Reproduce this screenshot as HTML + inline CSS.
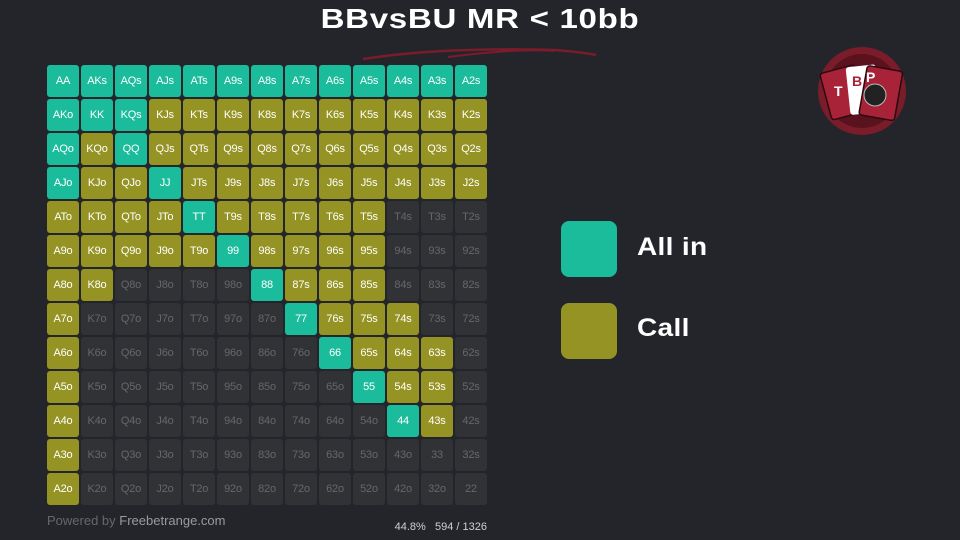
<!DOCTYPE html>
<html><head><meta charset="utf-8"><style>
body{margin:0;width:960px;height:540px;background:#24252a;font-family:"Liberation Sans",sans-serif;position:relative;overflow:hidden}
#g{position:absolute;left:47px;top:65px;width:442px;display:flex;flex-wrap:wrap;gap:2px}
#g i{font-style:normal;width:32px;height:32px;border-radius:3px;background:#313236;color:#66676b;font-size:11px;display:flex;align-items:center;justify-content:center;letter-spacing:-0.2px}
#g i.t{background:#1abc9c;color:#fff}
#g i.o{background:#959324;color:#fff}
.title{position:absolute;left:0;width:960px;top:3px;text-align:center;color:#fff;font-weight:bold;font-size:28px;letter-spacing:0.6px;transform:scaleX(1.18);transform-origin:480px 0}
.lg{position:absolute;left:561px;width:56px;height:56px;border-radius:8px}
.lt{position:absolute;left:637px;color:#fff;font-weight:bold;font-size:25px;letter-spacing:0.3px;transform:scaleX(1.12);transform-origin:0 0}
</style></head><body>
<div class="title">BBvsBU MR &lt; 10bb</div>
<svg style="position:absolute;left:0;top:0" width="960" height="540">
<path d="M363 59 Q440 47 555 50 Q580 52 596 55" stroke="#7a1c2a" stroke-width="2.5" fill="none"/>
<path d="M448 57 Q520 48 555 51" stroke="#7a1c2a" stroke-width="2" fill="none"/>
<circle cx="862" cy="91" r="44" fill="#7a1c2a"/>
<circle cx="862" cy="91" r="37" fill="#5a121d"/>
<g transform="rotate(-15 845 95)"><rect x="826" y="68" width="36" height="48" rx="3" fill="#a82238" stroke="#2a0a10" stroke-width="1.5"/></g>
<rect x="848" y="66" width="30" height="48" rx="3" fill="#fff" transform="rotate(-6 860 90)"/>
<g transform="rotate(10 880 92)"><rect x="863" y="68" width="36" height="50" rx="3" fill="#a82238" stroke="#2a0a10" stroke-width="1.5"/></g>
<circle cx="875" cy="95" r="11" fill="#222" stroke="#bbb" stroke-width="1"/>
<text x="834" y="96" fill="#fff" font-size="14" font-weight="bold" font-family="Liberation Sans">T</text>
<text x="852" y="86" fill="#a82238" font-size="14" font-weight="bold" font-family="Liberation Sans">B</text>
<text x="866" y="82" fill="#fff" font-size="14" font-weight="bold" font-family="Liberation Sans">P</text>
</svg>
<div id="g">
<i class=t>AA</i><i class=t>AKs</i><i class=t>AQs</i><i class=t>AJs</i><i class=t>ATs</i><i class=t>A9s</i><i class=t>A8s</i><i class=t>A7s</i><i class=t>A6s</i><i class=t>A5s</i><i class=t>A4s</i><i class=t>A3s</i><i class=t>A2s</i>
<i class=t>AKo</i><i class=t>KK</i><i class=t>KQs</i><i class=o>KJs</i><i class=o>KTs</i><i class=o>K9s</i><i class=o>K8s</i><i class=o>K7s</i><i class=o>K6s</i><i class=o>K5s</i><i class=o>K4s</i><i class=o>K3s</i><i class=o>K2s</i>
<i class=t>AQo</i><i class=o>KQo</i><i class=t>QQ</i><i class=o>QJs</i><i class=o>QTs</i><i class=o>Q9s</i><i class=o>Q8s</i><i class=o>Q7s</i><i class=o>Q6s</i><i class=o>Q5s</i><i class=o>Q4s</i><i class=o>Q3s</i><i class=o>Q2s</i>
<i class=t>AJo</i><i class=o>KJo</i><i class=o>QJo</i><i class=t>JJ</i><i class=o>JTs</i><i class=o>J9s</i><i class=o>J8s</i><i class=o>J7s</i><i class=o>J6s</i><i class=o>J5s</i><i class=o>J4s</i><i class=o>J3s</i><i class=o>J2s</i>
<i class=o>ATo</i><i class=o>KTo</i><i class=o>QTo</i><i class=o>JTo</i><i class=t>TT</i><i class=o>T9s</i><i class=o>T8s</i><i class=o>T7s</i><i class=o>T6s</i><i class=o>T5s</i><i>T4s</i><i>T3s</i><i>T2s</i>
<i class=o>A9o</i><i class=o>K9o</i><i class=o>Q9o</i><i class=o>J9o</i><i class=o>T9o</i><i class=t>99</i><i class=o>98s</i><i class=o>97s</i><i class=o>96s</i><i class=o>95s</i><i>94s</i><i>93s</i><i>92s</i>
<i class=o>A8o</i><i class=o>K8o</i><i>Q8o</i><i>J8o</i><i>T8o</i><i>98o</i><i class=t>88</i><i class=o>87s</i><i class=o>86s</i><i class=o>85s</i><i>84s</i><i>83s</i><i>82s</i>
<i class=o>A7o</i><i>K7o</i><i>Q7o</i><i>J7o</i><i>T7o</i><i>97o</i><i>87o</i><i class=t>77</i><i class=o>76s</i><i class=o>75s</i><i class=o>74s</i><i>73s</i><i>72s</i>
<i class=o>A6o</i><i>K6o</i><i>Q6o</i><i>J6o</i><i>T6o</i><i>96o</i><i>86o</i><i>76o</i><i class=t>66</i><i class=o>65s</i><i class=o>64s</i><i class=o>63s</i><i>62s</i>
<i class=o>A5o</i><i>K5o</i><i>Q5o</i><i>J5o</i><i>T5o</i><i>95o</i><i>85o</i><i>75o</i><i>65o</i><i class=t>55</i><i class=o>54s</i><i class=o>53s</i><i>52s</i>
<i class=o>A4o</i><i>K4o</i><i>Q4o</i><i>J4o</i><i>T4o</i><i>94o</i><i>84o</i><i>74o</i><i>64o</i><i>54o</i><i class=t>44</i><i class=o>43s</i><i>42s</i>
<i class=o>A3o</i><i>K3o</i><i>Q3o</i><i>J3o</i><i>T3o</i><i>93o</i><i>83o</i><i>73o</i><i>63o</i><i>53o</i><i>43o</i><i>33</i><i>32s</i>
<i class=o>A2o</i><i>K2o</i><i>Q2o</i><i>J2o</i><i>T2o</i><i>92o</i><i>82o</i><i>72o</i><i>62o</i><i>52o</i><i>42o</i><i>32o</i><i>22</i>
</div>
<div style="position:absolute;left:47px;top:513px;font-size:13px;color:#66676b">Powered by <span style="color:#9a9b9f">Freebetrange.com</span></div>
<div style="position:absolute;right:473px;top:521px;font-size:11px;color:#d0d0d0">44.8%&nbsp;&nbsp;&nbsp;594 / 1326</div>
<div class="lg" style="top:221px;background:#1abc9c"></div>
<div class="lg" style="top:303px;background:#959324"></div>
<div class="lt" style="top:233px">All in</div>
<div class="lt" style="top:314px">Call</div>
</body></html>
